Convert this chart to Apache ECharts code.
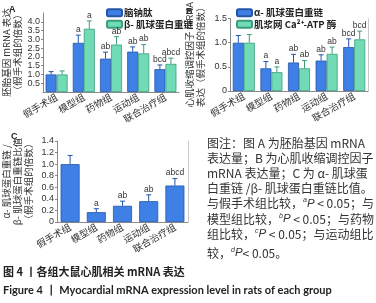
<!DOCTYPE html>
<html>
<head>
<meta charset="utf-8">
<script src="https://cdn.jsdelivr.net/npm/echarts@6/dist/echarts.min.js"></script>
<style>
  html, body { margin: 0; padding: 0; background: #fff; }
  #main { width: 376px; height: 303px; }
</style>
</head>
<body>
<div id="main"></div>
<script>
// groups on every x axis
const groups = ['假手术组', '模型组', '药物组', '运动组', '联合治疗组'];

// A - 胚胎基因
const bnpMean = [1.0, 2.8, 1.9, 2.3, 1.3];
const bnpTop = [1.16, 3.24, 2.27, 2.57, 1.54];
const bnpSig = ['', 'a', 'ab', 'ab', 'bcd'];
const bmhcMean = [1.0, 3.6, 2.7, 2.2, 1.6];
const bmhcTop = [1.2, 4.05, 3.15, 2.7, 1.93];
const bmhcSig = ['', 'a', 'ab', 'ab', 'abcd'];

// B - 心肌收缩调控因子
const amhcMean = [1.0, 0.47, 0.59, 0.63, 0.91];
const amhcTop = [1.15, 0.61, 0.76, 0.75, 1.08];
const amhcSig = ['', 'a', 'ab', 'ab', 'bcd'];
const sercaMean = [1.0, 0.39, 0.47, 0.77, 1.07];
const sercaTop = [1.17, 0.5, 0.63, 0.91, 1.24];
const sercaSig = ['', 'a', 'ab', 'ab', 'bcd'];

// C - α/β 比值
const ratioMean = [1.0, 0.17, 0.28, 0.36, 0.63];
const ratioTop = [1.15, 0.23, 0.36, 0.47, 0.75];
const ratioSig = ['', 'a', 'ab', 'ab', 'abcd'];

// y scales [max, interval]
const scaleA = [4.5, 0.5];
const scaleB = [1.5, 0.5];
const scaleC = [1.4, 0.2];

const noteLines = [
  '图注：图 A 为胚胎基因 mRNA',
  '表达量；B 为心肌收缩调控因子',
  'mRNA 表达量；C 为 α- 肌球蛋',
  '白重链 /β- 肌球蛋白重链比值。',
  '与假手术组比较，{s|a}{i|P} < 0.05；与',
  '模型组比较，{s|b}{i|P} < 0.05；与药物',
  '组比较，{s|c}{i|P} < 0.05；与运动组比',
  '较，{s|d}{i|P}< 0.05。'
];
const noteY = [143, 158, 173.5, 188.5, 203.5, 219, 234, 253];

const BLUE = '#3f80e6', BLUE_EDGE = '#2456a8';
const GREEN = '#70dbb5', GREEN_EDGE = '#3b9c7e';
const CJK = '"Noto Sans CJK SC"';
const AXIS = '#8a8a8a';

const chart = echarts.init(document.getElementById('main'));

function yAx(gi, scale, name, gap) {
  return {
    type: 'value', gridIndex: gi, min: 0, max: scale[0], interval: scale[1],
    name: name, nameLocation: 'middle', nameRotate: 90, nameGap: gap,
    nameTextStyle: { fontSize: 9.5, color: '#333', fontFamily: CJK, lineHeight: 11 },
    axisLine: { show: true, lineStyle: { color: AXIS } },
    axisTick: { show: true, length: 2, lineStyle: { color: AXIS } },
    axisLabel: { fontSize: 9, color: '#333', margin: 3, fontFamily: 'Liberation Sans',
      formatter: v => v === 0 ? '0' : v.toFixed(1) },
    splitLine: { show: false }
  };
}

// right edge line of a panel
function rightAx(gi, scale) {
  return {
    type: 'value', gridIndex: gi, min: 0, max: scale[0], position: 'right',
    axisLine: { show: true, lineStyle: { color: '#c8c8c8' } },
    axisTick: { show: false }, axisLabel: { show: false }, splitLine: { show: false }
  };
}

function xAx(gi) {
  return {
    type: 'category', gridIndex: gi, data: groups,
    axisLine: { lineStyle: { color: AXIS } },
    axisTick: { show: false },
    axisLabel: { rotate: 30, interval: 0, fontSize: 9.5, color: '#333', margin: 4, fontFamily: CJK }
  };
}

function errSeries(gi, yi, mean, top, sig, offset, color) {
  return {
    type: 'custom', xAxisIndex: gi, yAxisIndex: yi, z: 5,
    data: mean.map((v, i) => [i, v, top[i]]),
    renderItem: function (params, api) {
      const i = params.dataIndex;
      const b = api.coord([i, api.value(1)]);
      const t = api.coord([i, api.value(2)]);
      const x = b[0] + offset;
      return {
        type: 'group', children: [
          { type: 'line', shape: { x1: x, y1: b[1], x2: x, y2: t[1] }, style: { stroke: color, lineWidth: 1 } },
          { type: 'line', shape: { x1: x - 2.5, y1: t[1], x2: x + 2.5, y2: t[1] }, style: { stroke: color, lineWidth: 1 } },
          { type: 'text', style: { text: sig[i], x: x, y: t[1] - 1, align: 'center', verticalAlign: 'bottom',
            font: '8.5px "Liberation Sans"', fill: '#333' } }
        ]
      };
    }
  };
}

function bar(name, gi, yi, data, width, color, edge) {
  return {
    type: 'bar', name: name, xAxisIndex: gi, yAxisIndex: yi, data: data,
    barWidth: width, barGap: '0%',
    itemStyle: { color: color, borderColor: edge, borderWidth: 0.8 }
  };
}

const legendBase = {
  orient: 'vertical', itemWidth: 15, itemHeight: 7, itemGap: 2,
  textStyle: { fontSize: 9.5, color: '#222', fontFamily: CJK, fontWeight: 'bold', padding: [0, 0, 0, -3] }
};

const graphic = [
  { type: 'text', x: 9, y: 10, style: { text: 'A', font: 'bold 9px "Liberation Sans"', fill: '#222', verticalAlign: 'middle' } },
  { type: 'text', x: 186, y: 12, style: { text: 'B', font: 'bold 9px "Liberation Sans"', fill: '#222', verticalAlign: 'middle' } },
  { type: 'text', x: 11, y: 137, style: { text: 'C', font: 'bold 9px "Liberation Sans"', fill: '#222', verticalAlign: 'middle' } },
  { type: 'text', x: 3, y: 272, style: { text: '图 4 丨各组大鼠心肌相关 mRNA 表达', font: 'bold 11px ' + CJK, fill: '#222', verticalAlign: 'middle' } },
  { type: 'text', x: 3, y: 290, style: { text: 'Figure 4 丨 Myocardial mRNA expression level in rats of each group', font: 'bold 11px Lato', fill: '#222', verticalAlign: 'middle' } }
];
noteLines.forEach((line, k) => {
  graphic.push({
    type: 'text', x: 207, y: noteY[k],
    style: {
      text: line, font: '12px ' + CJK, fill: '#333', verticalAlign: 'middle',
      rich: {
        s: { fontSize: 7, fontFamily: 'Liberation Sans', fontStyle: 'italic', fill: '#333', verticalAlign: 'top', lineHeight: 13 },
        i: { fontSize: 11.5, fontFamily: 'Liberation Sans', fontStyle: 'italic', fill: '#333', lineHeight: 13 }
      }
    }
  });
});

chart.setOption({
  animation: false,
  grid: [
    { left: 40, top: 13, width: 139, height: 79 },
    { left: 230, top: 13, width: 138, height: 78 },
    { left: 50, top: 141, width: 138, height: 81 }
  ],
  xAxis: [xAx(0), xAx(1), xAx(2)],
  yAxis: [
    yAx(0, scaleA, '胚胎基因 mRNA 表达\n（假手术组的倍数）', 20),
    yAx(1, scaleB, '心肌收缩调控因子 mRNA\n表达（假手术组的倍数）', 24),
    yAx(2, scaleC, 'α- 肌球蛋白重链 /\nβ- 肌球蛋白重链比值\n（假手术组的倍数）', 23),
    rightAx(1, scaleB),
    rightAx(2, scaleC)
  ],
  legend: [
    Object.assign({ left: 101, top: 3, data: ['脑钠肽', 'β- 肌球蛋白重链'] }, legendBase),
    Object.assign({ left: 231, top: 3, data: ['α- 肌球蛋白重链', '肌浆网 Ca²⁺-ATP 酶'] }, legendBase)
  ],
  series: [
    bar('脑钠肽', 0, 0, bnpMean, 11, BLUE, BLUE_EDGE),
    bar('β- 肌球蛋白重链', 0, 0, bmhcMean, 11, GREEN, GREEN_EDGE),
    bar('α- 肌球蛋白重链', 1, 1, amhcMean, 11, BLUE, BLUE_EDGE),
    bar('肌浆网 Ca²⁺-ATP 酶', 1, 1, sercaMean, 11, GREEN, GREEN_EDGE),
    bar('α/β 比值', 2, 2, ratioMean, 19, BLUE, BLUE_EDGE),
    errSeries(0, 0, bnpMean, bnpTop, bnpSig, -5.5, BLUE_EDGE),
    errSeries(0, 0, bmhcMean, bmhcTop, bmhcSig, 5.5, GREEN_EDGE),
    errSeries(1, 1, amhcMean, amhcTop, amhcSig, -5.5, BLUE_EDGE),
    errSeries(1, 1, sercaMean, sercaTop, sercaSig, 5.5, GREEN_EDGE),
    errSeries(2, 2, ratioMean, ratioTop, ratioSig, 0, BLUE_EDGE)
  ],
  graphic: graphic
});
</script>
</body>
</html>
